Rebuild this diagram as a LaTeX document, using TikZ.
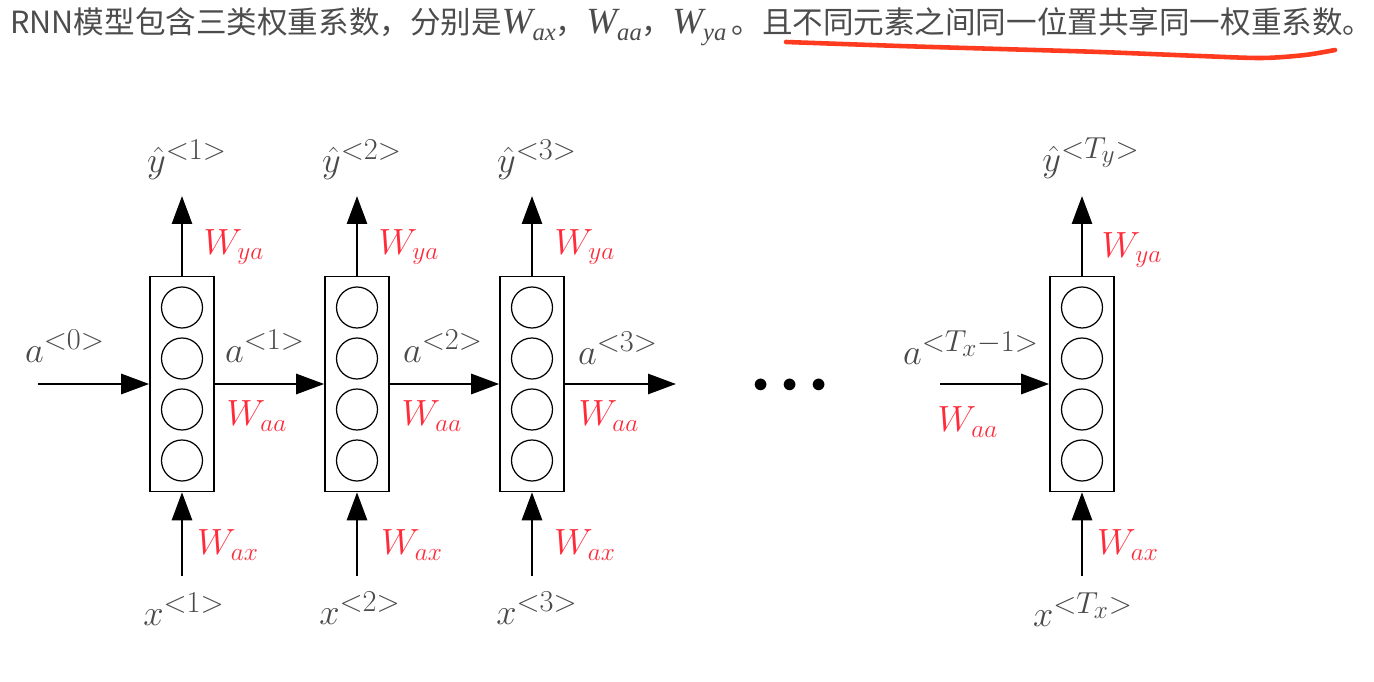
\documentclass[tikz,border=0pt]{standalone}
\usepackage{fontspec}
\usepackage{amsmath}
\usetikzlibrary{arrows.meta, positioning}
\newfontfamily\cjk{Noto Sans CJK SC}
\newfontfamily\timesfont{Liberation Serif}
\definecolor{labelgray}{HTML}{4A4A4A}
\definecolor{weightred}{HTML}{FF2B3A}
\definecolor{markred}{HTML}{FF3B1F}
\definecolor{titlegray}{HTML}{4C4C4C}
\newcommand{\tW}[1]{{\timesfont\itshape\fontsize{21}{22}\selectfont W\raisebox{-0.4ex}{\fontsize{14}{14}\selectfont #1}}}
\newcommand{\tsup}[1]{^{\mbox{\fontsize{27}{27}\selectfont$\scriptstyle #1$}}}

\begin{document}
\begin{tikzpicture}[
    x=0.02cm, y=-0.02cm,
    cellbox/.style={draw, line width=0.9pt, minimum width=1.28cm, minimum height=4.3cm, inner sep=0pt},
    neuron/.style={draw, circle, line width=0.7pt, minimum size=0.82cm, inner sep=0pt},
    flow/.style={line width=1.6pt, -{Triangle[length=0.56cm, width=0.4cm]}},
    weight/.style={text=weightred, font=\fontsize{22}{24}\selectfont},
    vlabel/.style={text=labelgray, font=\fontsize{22}{24}\selectfont},
    caption/.style={text=titlegray, font=\cjk\fontsize{17.4}{20}\selectfont, inner sep=0pt, text height=0.85em, text depth=0.15em}
]
\useasboundingbox (0,0) rectangle (1374,682);

% Title
\node[caption, anchor=base west] (title) at (10,34) {RNN模型包含三类权重系数，分别是\tW{ax}，\tW{aa}，\tW{ya}\,。且不同元素之间同一位置共享同一权重系数。};
\draw[markred, line width=2.6pt, line cap=round] plot[smooth] coordinates {(786,42) (900,46) (1000,49) (1100,52) (1200,56) (1262,58) (1305,55) (1335,50)};

% Cell 1
\node[cellbox] (cell1) at (182,384) {};
\node[neuron] (n11) at (182,307.5) {};
\node[neuron] (n12) at (182,358.5) {};
\node[neuron] (n13) at (182,409.5) {};
\node[neuron] (n14) at (182,460.5) {};
\coordinate (out1) at (182,196);
\coordinate (in1) at (182,576);
\draw[flow] (cell1.north) -- (out1);
\draw[flow] (in1) -- (cell1.south);
\node[vlabel] (y1) at (187,160) {$\hat{y}\tsup{<1>}$};
\node[weight] (wya1) at (234,247) {$W_{ya}$};
\node[weight] (wax1) at (228,545) {$W_{ax}$};
\node[vlabel] (x1) at (184,609) {$x\tsup{<1>}$};

% Cell 2
\node[cellbox] (cell2) at (357,384) {};
\node[neuron] (n21) at (357,307.5) {};
\node[neuron] (n22) at (357,358.5) {};
\node[neuron] (n23) at (357,409.5) {};
\node[neuron] (n24) at (357,460.5) {};
\coordinate (out2) at (357,196);
\coordinate (in2) at (357,576);
\draw[flow] (cell2.north) -- (out2);
\draw[flow] (in2) -- (cell2.south);
\node[vlabel] (y2) at (362,160) {$\hat{y}\tsup{<2>}$};
\node[weight] (wya2) at (409,247) {$W_{ya}$};
\node[weight] (wax2) at (412,545) {$W_{ax}$};
\node[vlabel] (x2) at (360,608) {$x\tsup{<2>}$};

% Cell 3
\node[cellbox] (cell3) at (532,384) {};
\node[neuron] (n31) at (532,307.5) {};
\node[neuron] (n32) at (532,358.5) {};
\node[neuron] (n33) at (532,409.5) {};
\node[neuron] (n34) at (532,460.5) {};
\coordinate (out3) at (532,196);
\coordinate (in3) at (532,576);
\draw[flow] (cell3.north) -- (out3);
\draw[flow] (in3) -- (cell3.south);
\node[vlabel] (y3) at (537,160) {$\hat{y}\tsup{<3>}$};
\node[weight] (wya3) at (585,247) {$W_{ya}$};
\node[weight] (wax3) at (585,545) {$W_{ax}$};
\node[vlabel] (x3) at (537,608) {$x\tsup{<3>}$};

% Last cell
\node[cellbox] (cell4) at (1082,384) {};
\node[neuron] (n41) at (1082,307.5) {};
\node[neuron] (n42) at (1082,358.5) {};
\node[neuron] (n43) at (1082,409.5) {};
\node[neuron] (n44) at (1082,460.5) {};
\coordinate (out4) at (1082,196);
\coordinate (in4) at (1082,576);
\draw[flow] (cell4.north) -- (out4);
\draw[flow] (in4) -- (cell4.south);
\node[vlabel] (y4) at (1091,158) {$\hat{y}\tsup{<T_y>}$};
\node[weight] (wya4) at (1132,250) {$W_{ya}$};
\node[weight] (wax4) at (1128,545) {$W_{ax}$};
\node[vlabel] (x4) at (1083,610) {$x\tsup{<T_x>}$};

% Hidden states
\coordinate (a0) at (38,384);
\coordinate (a3) at (676,384);
\coordinate (aT) at (940,384);
\draw[flow] (a0) -- (cell1.west);
\draw[flow] (cell1.east) -- (cell2.west);
\draw[flow] (cell2.east) -- (cell3.west);
\draw[flow] (cell3.east) -- (a3);
\draw[flow] (aT) -- (cell4.west);
\node[vlabel] (h0) at (65,346) {$a\tsup{<0>}$};
\node[vlabel] (h1) at (265,346) {$a\tsup{<1>}$};
\node[vlabel] (h2) at (443,346) {$a\tsup{<2>}$};
\node[vlabel] (h3) at (618,348) {$a\tsup{<3>}$};
\node[vlabel] (hT) at (971,348) {$a\tsup{<T_x-1>}$};
\node[weight] (waa1) at (257,416) {$W_{aa}$};
\node[weight] (waa2) at (432,416) {$W_{aa}$};
\node[weight] (waa3) at (609,416) {$W_{aa}$};
\node[weight] (waa4) at (968,422) {$W_{aa}$};

% Dots
\node[font=\fontsize{16}{16}\selectfont] (dots) at (790,386) {$\mathord{\bullet}\hspace{8pt}\mathord{\bullet}\hspace{8pt}\mathord{\bullet}$};
\end{tikzpicture}
\end{document}
